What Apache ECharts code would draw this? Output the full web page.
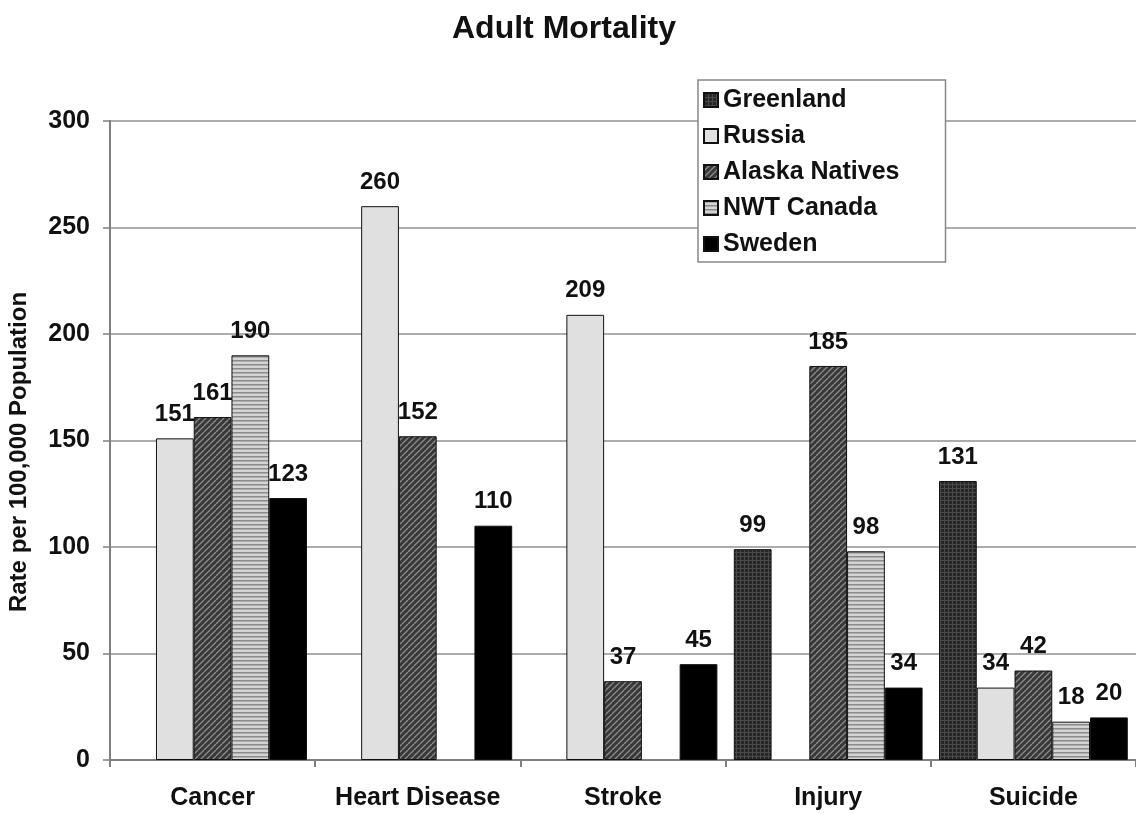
<!DOCTYPE html>
<html>
<head>
<meta charset="utf-8">
<script src="https://cdn.jsdelivr.net/npm/echarts@6/dist/echarts.min.js"></script>
<style>
html,body{margin:0;padding:0;background:#fff;}
#chart{width:1136px;height:814px;}
</style>
</head>
<body>
<div id="chart"></div>
<script>
const categories = ['Cancer', 'Heart Disease', 'Stroke', 'Injury', 'Suicide'];
const seriesNames = ['Greenland', 'Russia', 'Alaska Natives', 'NWT Canada', 'Sweden'];
const greenland = [null, null, null, 99, 131];
const russia = [151, 260, 209, null, 34];
const alaska = [161, 152, 37, 185, 42];
const nwt = [190, null, null, 98, 18];
const sweden = [123, 110, 45, 34, 20];
const yTicks = [0, 50, 100, 150, 200, 250, 300];
const yTitle = 'Rate per 100,000 Population';

function pat(w, h, draw) {
  const c = document.createElement('canvas');
  c.width = w; c.height = h;
  const ctx = c.getContext('2d');
  draw(ctx, w, h);
  return { image: c, repeat: 'repeat' };
}
const gridPat = pat(4, 4, (ctx) => {
  ctx.fillStyle = '#262626'; ctx.fillRect(0, 0, 4, 4);
  ctx.fillStyle = '#4a4a4a'; ctx.fillRect(0, 0, 4, 1); ctx.fillRect(0, 0, 1, 4);
});
const diagPat = pat(6, 6, (ctx) => {
  ctx.fillStyle = '#383838'; ctx.fillRect(0, 0, 6, 6);
  ctx.strokeStyle = '#8c8c8c'; ctx.lineWidth = 1.3;
  for (let k = -6; k <= 12; k += 6) {
    ctx.beginPath(); ctx.moveTo(k, 6); ctx.lineTo(k + 6, 0); ctx.stroke();
  }
});
const hPat = pat(4, 4, (ctx) => {
  ctx.fillStyle = '#d4d4d4'; ctx.fillRect(0, 0, 4, 4);
  ctx.fillStyle = '#8a8a8a'; ctx.fillRect(0, 0, 4, 1.5);
});

const fills = [gridPat, '#e0e0e0', diagPat, hPat, '#000000'];
const datasets = [greenland, russia, alaska, nwt, sweden];
const FONT = 'Liberation Sans, Arial, sans-serif';

const chart = echarts.init(document.getElementById('chart'));
chart.setOption({
  backgroundColor: '#ffffff',
  animation: false,
  title: {
    text: 'Adult Mortality', left: 559, top: 8, textAlign: 'center',
    textStyle: { fontFamily: FONT, fontWeight: 'bold', fontSize: 32, color: '#111' }
  },
  graphic: [{
    type: 'text', x: 19, y: 452, rotation: Math.PI / 2,
    style: {
      text: yTitle, fontFamily: FONT, fontWeight: 'bold', fontSize: 24, fill: '#111',
      textAlign: 'center', textVerticalAlign: 'middle'
    }
  }],
  legend: {
    orient: 'vertical', left: 698, top: 80,
    data: seriesNames, icon: 'rect',
    itemWidth: 14, itemHeight: 14, itemGap: 10, itemTextGap: 6,
    padding: [7, 46, 5, 5],
    backgroundColor: '#fff', borderColor: '#888', borderWidth: 1.5,
    textStyle: { fontFamily: FONT, fontWeight: 'bold', fontSize: 25, color: '#111', lineHeight: 26 }
  },
  grid: { left: 110, right: -5, top: 121, bottom: 54 },
  xAxis: {
    type: 'category', data: categories,
    axisLine: { lineStyle: { color: '#808080', width: 2 } },
    axisTick: { show: true, interval: 0, length: 7, lineStyle: { color: '#808080', width: 2 } },
    axisLabel: { interval: 0, fontFamily: FONT, fontWeight: 'bold', fontSize: 25, color: '#111', margin: 26 }
  },
  yAxis: {
    type: 'value', min: 0, max: 300, interval: 50,
    axisLine: { show: true, lineStyle: { color: '#808080', width: 2 } },
    axisTick: { show: true, length: 7, lineStyle: { color: '#808080', width: 1.5 } },
    axisLabel: {
      fontFamily: FONT, fontWeight: 'bold', fontSize: 25, color: '#111', margin: 20,
      formatter: (v) => yTicks.includes(v) ? String(v) : ''
    },
    splitLine: { lineStyle: { color: '#909090', width: 1.5 } }
  },
  series: seriesNames.map((name, i) => ({
    name, type: 'bar', data: datasets[i],
    barGap: '0%', barCategoryGap: '8%',
    itemStyle: { color: fills[i], borderColor: '#111', borderWidth: 1 },
    label: {
      show: true, position: 'top', distance: 12,
      fontFamily: FONT, fontWeight: 'bold', fontSize: 24, color: '#111'
    }
  }))
});
</script>
</body>
</html>
